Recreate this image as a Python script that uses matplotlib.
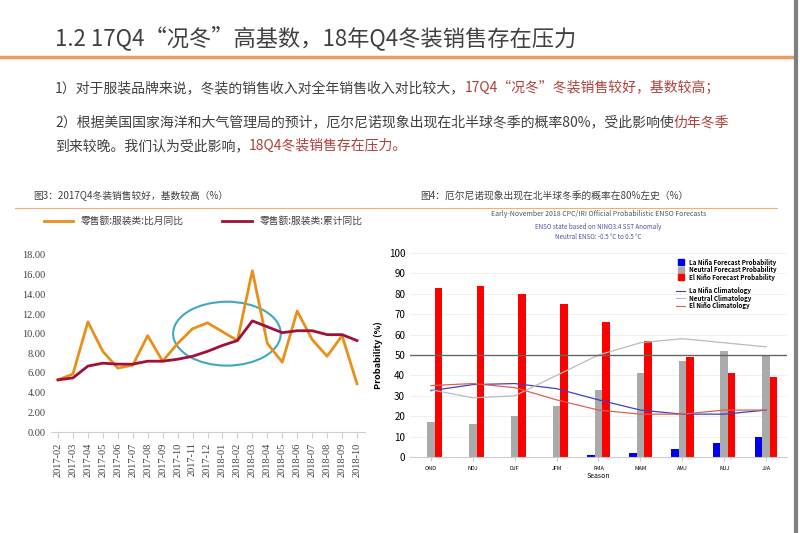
import matplotlib.pyplot as plt
from matplotlib.patches import Ellipse
from matplotlib.lines import Line2D
import numpy as np

plt.rcParams['font.family'] = ['Noto Sans CJK SC', 'DejaVu Sans']

months = ["2017-02", "2017-03", "2017-04", "2017-05", "2017-06", "2017-07", "2017-08",
          "2017-09", "2017-10", "2017-11", "2017-12", "2018-01", "2018-02", "2018-03",
          "2018-04", "2018-05", "2018-06", "2018-07", "2018-08", "2018-09", "2018-10"]
monthly_yoy = [5.3, 5.9, 11.2, 8.2, 6.5, 6.8, 9.8, 7.2, 9.0, 10.5, 11.1, 10.2, 9.3, 16.4,
               9.0, 7.1, 12.3, 9.4, 7.7, 9.8, 4.9]
cum_yoy = [5.3, 5.5, 6.7, 7.0, 6.9, 6.9, 7.2, 7.2, 7.4, 7.7, 8.2, 8.8, 9.3, 11.3,
           10.7, 10.1, 10.3, 10.3, 9.9, 9.9, 9.3]

seasons = ["OND", "NDJ", "DJF", "JFM", "FMA", "MAM", "AMJ", "MJJ", "JJA"]
la_nina = [0, 0, 0, 0, 1, 2, 4, 7, 10]
neutral = [17, 16, 20, 25, 33, 41, 47, 52, 50]
el_nino = [83, 84, 80, 75, 66, 57, 49, 41, 39]
la_clim = [32.5, 35.5, 36, 33.5, 28, 23, 21, 21, 23]
neu_clim = [33, 29, 30, 40, 50, 56, 58, 56, 54]
el_clim = [35, 36, 34, 28, 23, 21, 21, 23, 23]

fig = plt.figure(figsize=(8, 5.33), dpi=100)
H = 533.0


def fy(py):
    return 1 - py / H


def rich(x, y, pieces, size):
    # draw colored text pieces one after another
    r = fig.canvas.get_renderer()
    for s, c in pieces:
        t = fig.text(x, y, s, color=c, fontsize=size, va='center')
        bb = t.get_window_extent(renderer=r)
        x += bb.width / fig.bbox.width


# slide header
fig.text(55 / 800, fy(38), "1.2 17Q4“况冬”高基数，18年Q4冬装销售存在压力", fontsize=16, color='#404040', va='center')
fig.add_artist(Line2D([0, 795 / 800], [fy(57), fy(57)], color='#E8A060', lw=2.5))
fig.add_artist(Line2D([796 / 800, 796 / 800], [0, 1], color='#808080', lw=3))
red = '#B0403A'
dark = '#404040'
rich(55 / 800, fy(88), [("1）对于服装品牌来说，冬装的销售收入对全年销售收入对比较大，", dark),
                         ("17Q4“况冬”冬装销售较好，基数较高；", red)], 10)
rich(55 / 800, fy(122), [("2）根据美国国家海洋和大气管理局的预计，厄尔尼诺现象出现在北半球冬季的概率80%，受此影响使", dark),
                          ("仂年冬季", red)], 10)
rich(55 / 800, fy(146), [("到来较晚。我们认为受此影响，", dark), ("18Q4冬装销售存在压力。", red)], 10)

# chart captions
fig.text(33 / 800, fy(196), "图3：2017Q4冬装销售较好，基数较高（%）", fontsize=7, color='#404040', va='center')
fig.add_artist(Line2D([15 / 800, 375 / 800], [fy(208), fy(208)], color='#F0B070', lw=0.8))
fig.text(420 / 800, fy(196), "图4：厄尔尼诺现象出现在北半球冬季的概率在80%左史（%）", fontsize=7, color='#404040', va='center')
fig.add_artist(Line2D([360 / 800, 777 / 800], [fy(208), fy(208)], color='#F0B070', lw=0.8))

# left chart
ax = fig.add_axes([50.5 / 800, fy(432), 314 / 800, 177 / H])
x = np.arange(len(months))
ax.plot(x, monthly_yoy, color='#E8901A', lw=2, label="零售额:服装类:比月同比")
ax.plot(x, cum_yoy, color='#A01038', lw=2, label="零售额:服装类:累计同比")
ax.set_xlim(-0.5, len(months) - 0.5)
ax.set_ylim(0, 18)
ax.set_yticks(np.arange(0, 19, 2))
ax.set_yticklabels([f"{v:.2f}" for v in np.arange(0, 19, 2)], fontsize=7.5, color='#404040', family='Liberation Serif')
ax.set_xticks(x)
ax.set_xticklabels(months, rotation=90, fontsize=7.5, color='#404040', family='Liberation Serif')
for s in ['top', 'right', 'left']:
    ax.spines[s].set_visible(False)
ax.spines['bottom'].set_color('#D0D0D0')
ax.tick_params(axis='y', length=0)
ax.tick_params(axis='x', color='#D0D0D0', length=4)
ax.add_patch(Ellipse((11.3, 10.0), 7.2, 6.5, fill=False, edgecolor='#40A8C0', lw=1.5))
ax.legend(loc='upper left', bbox_to_anchor=(-0.05, 1.27), ncol=2, frameon=False, fontsize=7,
          handlelength=3, columnspacing=4, labelcolor='#404040')

# right chart
ax2 = fig.add_axes([410 / 800, fy(457), 377 / 800, 204 / H])
xs = np.arange(len(seasons))
w = 0.18
ax2.bar(xs - w, la_nina, w, color='#0000EE')
ax2.bar(xs, neutral, w, color='#AAAAAA')
ax2.bar(xs + w, el_nino, w, color='#FF0000')
ax2.plot(xs, la_clim, color='#4040C0', lw=0.9)
ax2.plot(xs, neu_clim, color='#BBBBBB', lw=0.9)
ax2.plot(xs, el_clim, color='#E06050', lw=0.9)
ax2.axhline(50, color='#666666', lw=1)
ax2.set_xlim(-0.5, len(seasons) - 0.5)
ax2.set_ylim(0, 100)
ax2.set_yticks(range(0, 101, 10))
ax2.grid(axis='y', color='#EEEEEE', lw=0.6)
ax2.set_axisbelow(True)
ax2.tick_params(axis='y', labelsize=7, length=0)
ax2.set_xticks(xs)
ax2.set_xticklabels(seasons, fontsize=4)
ax2.tick_params(axis='x', length=3, color='#CCCCCC')
for s in ['top', 'right', 'left']:
    ax2.spines[s].set_visible(False)
ax2.spines['bottom'].set_color('#CCCCCC')
ax2.set_xlabel("Season", fontsize=5, labelpad=1)
ax2.set_ylabel("Probability (%)", fontsize=6.5, fontweight='bold', labelpad=4)
ax2.text(0.5, 1.18, "Early-November 2018 CPC/IRI Official Probabilistic ENSO Forecasts",
         transform=ax2.transAxes, ha='center', fontsize=5, color='#555555')
ax2.text(0.5, 1.12, "ENSO state based on NINO3.4 SST Anomaly", transform=ax2.transAxes,
         ha='center', fontsize=4.5, color='#5050A0')
ax2.text(0.5, 1.07, "Neutral ENSO: -0.5 °C to 0.5 °C", transform=ax2.transAxes,
         ha='center', fontsize=4.5, color='#5050A0')
leg_items = [("La Niña Forecast Probability", '#0000EE', 'bar'),
             ("Neutral Forecast Probability", '#AAAAAA', 'bar'),
             ("El Niño Forecast Probability", '#FF0000', 'bar'),
             ("La Niña Climatology", '#4040C0', 'line'),
             ("Neutral Climatology", '#BBBBBB', 'line'),
             ("El Niño Climatology", '#E06050', 'line')]
ly = [0.955, 0.918, 0.881, 0.815, 0.778, 0.741]
for (lab, c, kind), yy in zip(leg_items, ly):
    if kind == 'bar':
        ax2.add_patch(plt.Rectangle((0.71, yy - 0.015), 0.018, 0.03, color=c, transform=ax2.transAxes))
    else:
        ax2.add_line(Line2D([0.705, 0.73], [yy, yy], color=c, lw=0.8, transform=ax2.transAxes))
    ax2.text(0.74, yy, lab, transform=ax2.transAxes, fontsize=4.5, fontweight='bold', va='center')

fig.savefig("out.png", dpi=100)
